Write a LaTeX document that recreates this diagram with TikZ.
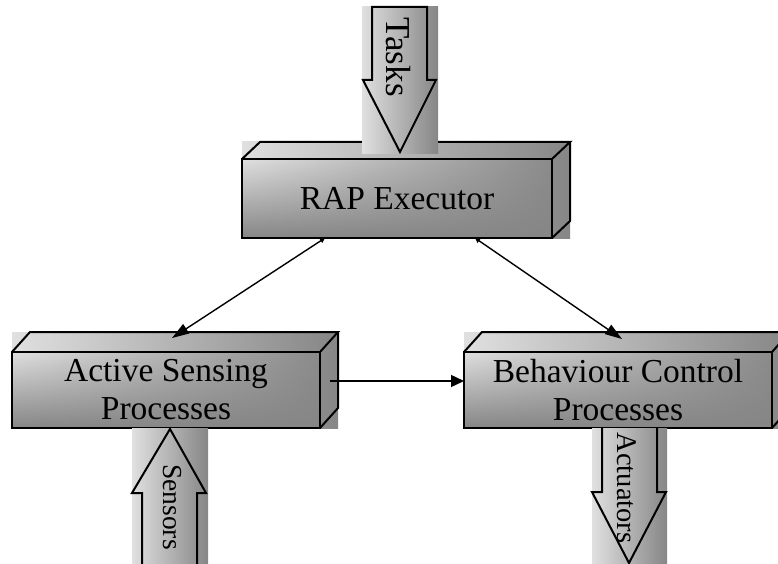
\documentclass[tikz,border=0pt]{standalone}
\usepackage{fontspec}
\setmainfont{Liberation Serif}
\usetikzlibrary{calc,arrows.meta,fadings,backgrounds}

\definecolor{shadelight}{RGB}{224,224,224}
\definecolor{shadedark}{RGB}{134,134,134}

\tikzset{
  edge/.style={line width=2pt, line join=miter},
  facefill/.style={left color=shadelight, right color=shadedark},
  frontface/.style={inner sep=0pt, outer sep=0pt, align=center,
    font=\fontsize{33.5}{38}\selectfont},
  streamlabel/.style={inner sep=0pt, rotate=-90},
  link/.style={line width=1.4pt},
  smalltip/.tip={Triangle[length=5pt,width=5pt]},
  bigtip/.tip={Triangle[length=17pt,width=11pt]},
  flattip/.tip={Triangle[length=13pt,width=12pt]},
}

% A bevelled block drawn behind its front-face node #1, with depth (#2,#3)
\newcommand\solidblock[3]{%
  \begin{scope}[on background layer]
    \shade[facefill] (#1.south west) rectangle ($(#1.north east)+(#2,-#3)$);
    \fill[shadedark, path fading=north] (#1.south west) rectangle (#1.north east);
    \draw[edge] (#1.south west) rectangle (#1.north east);
    \draw[edge] (#1.north west) -- ++(#2,-#3) -- ($(#1.north east)+(#2,-#3)$)
      -- (#1.north east);
    \draw[edge] ($(#1.north east)+(#2,-#3)$) -- ($(#1.south east)+(#2,-#3)$)
      -- (#1.south east);
  \end{scope}}

\begin{document}
\begin{tikzpicture}[x=1pt, y=-1pt]
  \useasboundingbox (0,0) rectangle (778,564);

  % process blocks
  \node[frontface, minimum width=310pt, minimum height=79pt] (rap)
    at (397,198.5) {RAP Executor};
  \solidblock{rap}{18}{17}
  \node[frontface, minimum width=308pt, minimum height=76pt] (as)
    at (166,390) {Active Sensing\\Processes};
  \solidblock{as}{18}{20}
  \node[frontface, minimum width=308pt, minimum height=76pt] (bc)
    at (618,390) {Behaviour Control\\Processes};
  \solidblock{bc}{18}{20}

  % Tasks stream into the executor
  \shade[facefill] (362,7) rectangle (438,154);
  \draw[edge] (372,7) -- (427,7) -- (427,80) -- (436,80) -- (400,152)
    -- (363,80) -- (372,80) -- cycle;
  \node[streamlabel, font=\fontsize{35}{38}\selectfont] (tasks) at (398,57) {Tasks};

  % Sensors stream into active sensing
  \shade[facefill] (132,428) rectangle (208,570);
  \draw[edge] (142,572) -- (142,493) -- (132,493) -- (170,429) -- (206,493)
    -- (197,493) -- (197,572);
  \node[streamlabel, font=\fontsize{27.5}{32}\selectfont] (sensors) at (172,507) {Sensors};

  % Actuators stream out of behaviour control
  \shade[facefill] (592,428) rectangle (667,570);
  \draw[edge] (602,428) -- (602,492) -- (592,492) -- (629,563) -- (666,492)
    -- (657,492) -- (657,428);
  \node[streamlabel, font=\fontsize{28.5}{32}\selectfont] (actuators) at (627,488) {Actuators};

  % links between the processes
  \draw[link, smalltip-bigtip] ($(rap.south west)+(83,0)$) -- ($(as.north)+(6,-14)$);
  \draw[link, smalltip-bigtip] ($(rap.south west)+(233,0)$) -- ($(bc.north)+(4,-13)$);
  \draw[link, -flattip] ($(as.east)+(10,-9)$) -- ($(bc.west)+(0,-9)$);
\end{tikzpicture}
\end{document}
